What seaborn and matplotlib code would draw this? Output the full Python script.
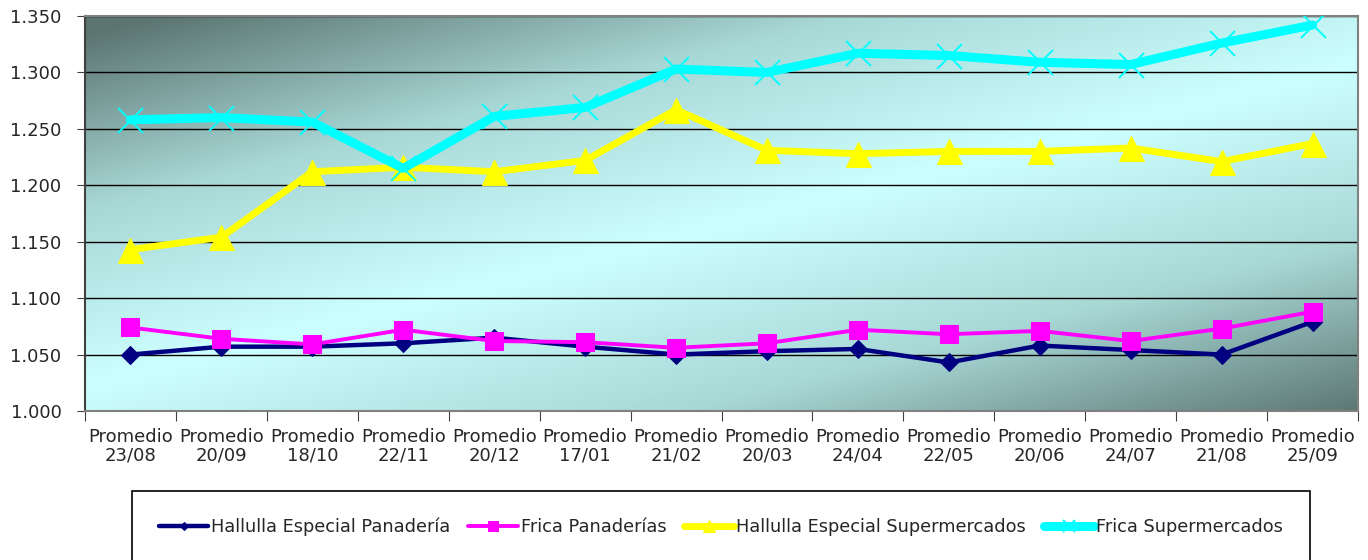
import numpy as np
import pandas as pd
import seaborn as sns
import matplotlib.pyplot as plt
from matplotlib.colors import LinearSegmentedColormap

# datos
fechas = ["23/08", "20/09", "18/10", "22/11", "20/12", "17/01", "21/02",
          "20/03", "24/04", "22/05", "20/06", "24/07", "21/08", "25/09"]
hallulla_panaderia = [1.050, 1.057, 1.057, 1.060, 1.065, 1.057, 1.050,
                      1.053, 1.055, 1.043, 1.058, 1.054, 1.050, 1.079]
frica_panaderias = [1.074, 1.064, 1.059, 1.072, 1.062, 1.061, 1.056,
                    1.060, 1.072, 1.068, 1.071, 1.062, 1.073, 1.088]
hallulla_super = [1.143, 1.154, 1.212, 1.216, 1.212, 1.222, 1.267,
                  1.231, 1.228, 1.230, 1.230, 1.233, 1.221, 1.237]
frica_super = [1.258, 1.260, 1.256, 1.215, 1.261, 1.269, 1.303,
               1.300, 1.317, 1.315, 1.309, 1.307, 1.326, 1.342]
series = ["Hallulla Especial Panadería", "Frica Panaderías",
          "Hallulla Especial Supermercados", "Frica Supermercados"]

sns.set_style("ticks")
plt.rcParams['font.family'] = ['DejaVu Sans']

df = pd.DataFrame({
    'pos': list(range(len(fechas))) * 4,
    'precio': hallulla_panaderia + frica_panaderias + hallulla_super + frica_super,
    'serie': np.repeat(series, len(fechas)),
})

fig = plt.figure(figsize=(13.68, 5.6), dpi=100)
ax = fig.add_axes([85 / 1368, 1 - 411 / 560, 1273 / 1368, 395 / 560])

# fondo degradado
u, v = np.meshgrid(np.linspace(0, 1, 600), np.linspace(1, 0, 200))
t = np.clip(np.abs(v - (0.06 + 0.82 * u)) / 0.9, 0, 1)
cmap = LinearSegmentedColormap.from_list("fondo", ["#ccffff", "#a8d8d6", "#5b7470"])
ax.imshow(t, cmap=cmap, extent=[0, 1, 0, 1], transform=ax.transAxes,
          aspect='auto', zorder=0, vmin=0, vmax=1)

estilos = {
    "Hallulla Especial Panadería": dict(color="#000080", marker="D", markersize=9, linewidth=3.2),
    "Frica Panaderías": dict(color="#ff00ff", marker="s", markersize=13, linewidth=2.8),
    "Hallulla Especial Supermercados": dict(color="#ffff00", marker="^", markersize=18, linewidth=5),
    "Frica Supermercados": dict(color="#00ffff", marker="x", markersize=18, linewidth=6.5,
                                markeredgewidth=1.4),
}
for i, s in enumerate(series):
    sub = df[df['serie'] == s]
    st = estilos[s]
    sns.lineplot(data=sub, x='pos', y='precio', ax=ax, label=s, zorder=3 + i,
                 markeredgecolor=st['color'], **st)

ax.set_xlim(-0.5, len(fechas) - 0.5)
ax.set_ylim(1.0, 1.35)
ax.set_yticks(np.arange(1.0, 1.351, 0.05))
ax.set_yticklabels([f"{y:.3f}" for y in np.arange(1.0, 1.351, 0.05)])
ax.yaxis.grid(True, color='black', linewidth=1)
ax.tick_params(axis='y', length=6, pad=11, labelsize=13, color='#404040')

ax.set_xticks(np.arange(-0.5, len(fechas)), labels=[])
ax.set_xticks(range(len(fechas)), labels=["Promedio\n" + f for f in fechas], minor=True)
ax.tick_params(axis='x', which='major', length=7, color='#404040')
ax.tick_params(axis='x', which='minor', length=0, pad=12, labelsize=13)
for lab in ax.get_xticklabels(minor=True):
    lab.set_linespacing(1.05)
ax.set_xlabel("")
ax.set_ylabel("")
for sp in ax.spines.values():
    sp.set_color('#808080')
    sp.set_linewidth(1.5)
ax.spines['left'].set_color('#404040')

ax.legend_.remove()
h, l = ax.get_legend_handles_labels()
leg = fig.legend(h, l, loc='upper center', bbox_to_anchor=(721 / 1368, 1 - 482 / 560),
                 ncol=4, frameon=True, fancybox=False, framealpha=1, edgecolor='black',
                 fontsize=12.8, handlelength=2.8, handletextpad=0.15, columnspacing=1.0,
                 borderpad=1.5, markerscale=0.5)
leg.get_frame().set_linewidth(1.2)

fig.savefig("out.png", dpi=100)
